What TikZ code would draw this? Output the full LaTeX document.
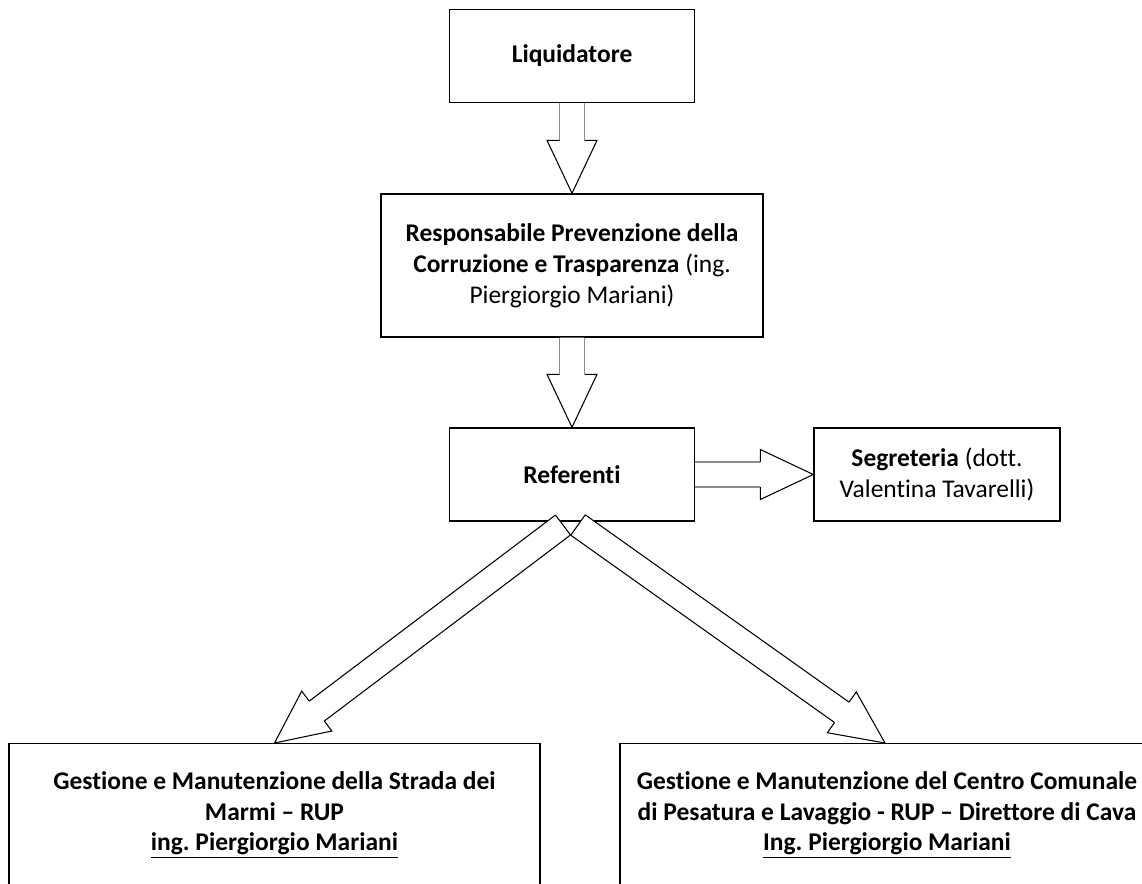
\documentclass[tikz,border=0pt]{standalone}
\usepackage{fontspec}
\setmainfont{Carlito}[Ligatures=NoCommon]
\usetikzlibrary{calc}
\frenchspacing

\definecolor{arrowgray}{gray}{0.55}
\newcommand{\shafthw}{0.25cm}
\newcommand{\headhw}{0.5cm}
\newcommand{\headlen}{1.06cm}

% hollow block arrow from #2 to #3, shaft lines in colour #1
\newcommand{\bigarrow}[3][arrowgray]{%
  \coordinate (ta) at ($(#2)!\shafthw!90:(#3)$);
  \coordinate (tb) at ($(#2)!\shafthw!-90:(#3)$);
  \coordinate (hb) at ($(#3)!\headlen!(#2)$);
  \coordinate (sa) at ($(hb)!\shafthw!90:(#3)$);
  \coordinate (sb) at ($(hb)!\shafthw!-90:(#3)$);
  \coordinate (ba) at ($(hb)!\headhw!90:(#3)$);
  \coordinate (bb) at ($(hb)!\headhw!-90:(#3)$);
  \fill[white] (ta) -- (sa) -- (ba) -- (#3) -- (bb) -- (sb) -- (tb) -- cycle;
  \draw[arrowline, #1] (ta) -- (sa) (tb) -- (sb);
  \draw[arrowline] (sa) -- (ba) -- (#3) -- (bb) -- (sb);
}

\tikzset{
  box/.style={draw, line width=0.8pt, align=center, inner sep=2pt,
    font=\fontsize{14.5}{17.5}\selectfont},
  smallbox/.style={box, minimum width=4.9cm, minimum height=1.86cm},
  bigbox/.style={draw, line width=0.8pt, anchor=north, minimum width=10.62cm, minimum height=4cm},
  boxtext/.style={align=center, font=\fontsize{14.5}{17.5}\selectfont\bfseries},
  arrowline/.style={line width=0.6pt, line join=miter},
}

\begin{document}
\begin{tikzpicture}[x=0.02cm, y=-0.02cm]
\useasboundingbox (0,0) rectangle (1142,883);
\clip (0,0) rectangle (1142,883);

\node[smallbox] (liq) at (572,56) {\textbf{Liquidatore}};
\node[box, minimum width=7.64cm, minimum height=2.86cm] (rpc) at (572,265.5)
  {\textbf{Responsabile Prevenzione della}\\
   \textbf{Corruzione e Trasparenza} (ing.\\
   Piergiorgio Mariani)};
\node[smallbox] (ref) at (572,474.5) {\textbf{Referenti}};
\node[smallbox, minimum width=4.92cm] (seg) at (937,474.5)
  {\textbf{Segreteria} (dott.\\ Valentina Tavarelli)};

\node[bigbox] (strada) at (274.5,743) {};
\node[bigbox, minimum width=10.6cm] (cava) at (885,743) {};
\node[boxtext] (stradatext) at (274.5,815)
  {Gestione e Manutenzione della Strada dei\\
   Marmi -- RUP\\
   \underline{ing. Piergiorgio Mariani}};
\node[boxtext] (cavatext) at (887,815)
  {Gestione e Manutenzione del Centro Comunale\\
   di Pesatura e Lavaggio - RUP -- Direttore di Cava\\
   \underline{Ing. Piergiorgio Mariani}};

\bigarrow{liq.south}{rpc.north}
\bigarrow{rpc.south}{ref.north}
\bigarrow{ref.east}{seg.west}

\coordinate (tailL) at (563,525);
\coordinate (tailR) at (578,525);
\bigarrow[black]{tailL}{strada.north}
\draw[arrowline] (ta) -- (tb);
\bigarrow[black]{tailR}{cava.north}
\draw[arrowline] (ta) -- (tb);

\end{tikzpicture}
\end{document}
